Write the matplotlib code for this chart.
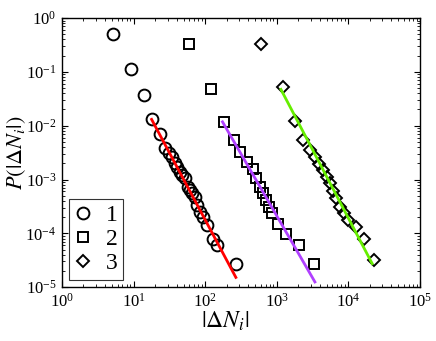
import numpy as np
import matplotlib
matplotlib.use("Agg")
import matplotlib.pyplot as plt
from matplotlib.ticker import LogLocator

# Données
x1 = [5.1, 9.1, 14.0, 17.9, 23.4, 27.5, 31.0, 34.0, 37.9, 41.0, 44.5, 48.0, 52.2, 58.1,
      61.0, 64.8, 72.1, 77.6, 84.6, 94.0, 108, 130, 145, 269]
y1 = [0.50, 0.111, 0.0375, 0.0131, 0.00698, 0.00379, 0.0031, 0.00264, 0.00199, 0.0017,
      0.00139, 0.00121, 0.00105, 0.00073, 0.00064, 0.00055, 0.000477, 0.000334, 0.000251,
      0.000203, 0.000142, 8.0e-5, 6.0e-5, 2.68e-5]

x2 = [60, 122, 183, 253, 306, 380, 460, 512, 582, 635, 706, 787, 849, 1050, 1343, 2060, 3311]
y2 = [0.324, 0.0473, 0.0118, 0.0054, 0.00327, 0.00213, 0.00154, 0.00105, 0.00073, 0.00055,
      0.000414, 0.000311, 0.000234, 0.000152, 9.9e-5, 6.0e-5, 2.68e-5]

x3 = [608, 1208, 1795, 2344, 2911, 3420, 3930, 4470, 5080, 5540, 6160, 6720, 7640, 8690,
      9980, 12760, 16500, 22800]
y3 = [0.324, 0.0528, 0.0123, 0.0054, 0.00352, 0.00258, 0.00193, 0.0015, 0.00112, 0.000846,
      0.000618, 0.000445, 0.000311, 0.000234, 0.000176, 0.000132, 8.0e-5, 3.18e-5]

# Ajustements en loi de puissance : (x debut, x fin, y au debut, exposant)
fit1 = (17.9, 269, 0.0131, -2.495)
fit2 = (175, 3420, 0.0118, -2.305)
fit3 = (1146, 21580, 0.0473, -2.54)

labels = ["1", "2", "3"]


def droite(fit):
    xa, xb, ya, alpha = fit
    xs = np.array([xa, xb])
    return xs, ya * (xs / xa) ** alpha


plt.rcParams['font.family'] = ['Liberation Serif', 'DejaVu Serif']
plt.rcParams['mathtext.fontset'] = 'stix'

fig = plt.figure(figsize=(4.36, 3.41), dpi=100)
ax = fig.add_axes([0.142, 0.158, 0.821, 0.789])

ax.plot(x1, y1, 'o', mfc='none', mec='k', mew=1.4, ms=8.5, label=labels[0])
ax.plot(x2, y2, 's', mfc='none', mec='k', mew=1.4, ms=6.5, label=labels[1])
ax.plot(x3, y3, 'D', mfc='none', mec='k', mew=1.4, ms=6.0, label=labels[2])

for fit, c in [(fit1, '#ff0000'), (fit2, '#b040ff'), (fit3, '#66ee00')]:
    xs, ys = droite(fit)
    ax.plot(xs, ys, '-', color=c, lw=2.0, zorder=5)

ax.set_xscale('log')
ax.set_yscale('log')
ax.set_xlim(1, 1e5)
ax.set_ylim(1e-5, 1)
ax.xaxis.set_major_locator(LogLocator(base=10, numticks=10))
ax.yaxis.set_major_locator(LogLocator(base=10, numticks=10))
ax.xaxis.set_minor_locator(LogLocator(base=10, subs=np.arange(2, 10), numticks=10))
ax.yaxis.set_minor_locator(LogLocator(base=10, subs=np.arange(2, 10), numticks=10))
ax.tick_params(which='both', direction='in', top=True, right=True, labelsize=12)
ax.tick_params(which='major', length=4, pad=4)
ax.tick_params(which='minor', length=2)
for s in ax.spines.values():
    s.set_linewidth(1.0)

ax.set_xlabel(r'$|\Delta N_i|$', fontsize=17)
ax.xaxis.set_label_coords(0.455, -0.085)
ax.xaxis.label.set_va('top')
ax.set_ylabel(r'$P(|\Delta N_i|)$', fontsize=16)
ax.yaxis.set_label_coords(-0.095, 0.5)

leg = ax.legend(loc='lower left', fontsize=17, frameon=True, fancybox=False,
                edgecolor='k', handlelength=0.7, handletextpad=0.6,
                borderpad=0.25, labelspacing=0.1, borderaxespad=0.3)
leg.get_frame().set_linewidth(0.8)

fig.savefig('out.png', dpi=100)
